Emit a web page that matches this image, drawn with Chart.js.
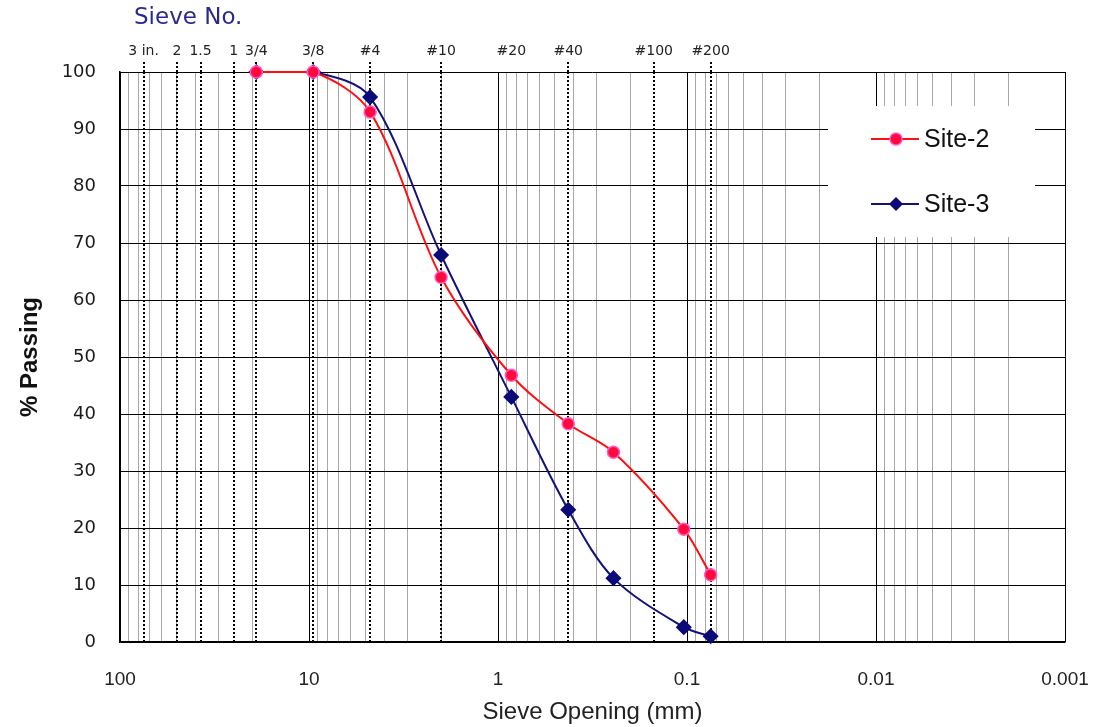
<!DOCTYPE html>
<html><head><meta charset="utf-8">
<script src="https://cdn.jsdelivr.net/npm/chart.js@4/dist/chart.umd.min.js"></script>
<style>html,body{margin:0;padding:0;background:#fff;}#wrap{width:1097px;height:727px;}</style>
</head><body><div id="wrap"><canvas id="c" width="1097" height="727"></canvas></div>
<script>
// ---- data ----
const sieveLabels = ['3 in.', '2', '1.5', '1', '3/4', '3/8', '#4', '#10', '#20', '#40', '#100', '#200'];
const sieveSizes  = [75, 50, 37.5, 25, 19, 9.5, 4.75, 2.0, 0.85, 0.425, 0.15, 0.075];
const sieveDotted = [true, true, true, true, true, true, true, true, false, true, true, true];
const openingTicks = [100, 10, 1, 0.1, 0.01, 0.001];
const yTicks = [0, 10, 20, 30, 40, 50, 60, 70, 80, 90, 100];
const site2Sizes   = [19, 9.5, 4.75, 2.0, 0.85, 0.425, 0.245, 0.104, 0.075];
const site2Passing = [100, 100, 93.0, 64.0, 46.8, 38.3, 33.3, 19.8, 11.8];
const site3Sizes   = [19, 9.5, 4.75, 2.0, 0.85, 0.425, 0.245, 0.104, 0.075];
const site3Passing = [100, 100, 95.6, 67.9, 43.0, 23.2, 11.2, 2.6, 1.0];

// minor log grid (2..9 per decade)
const minorTicks = [];
for (let i = 1; i < openingTicks.length; i++) {
  for (let m = 2; m <= 9; m++) minorTicks.push(m * openingTicks[i]);
}
const majorSet = new Set(openingTicks);

const ds = (label, xs, ys, color, style, bg, bd, r) => ({
  label,
  data: xs.map((x, i) => ({ x, y: ys[i] })),
  borderColor: color, borderWidth: 2,
  pointStyle: style, pointBackgroundColor: bg, pointBorderColor: bd,
  pointBorderWidth: 1.5, pointRadius: r,
  tension: 0.32, fill: false, clip: false, xAxisID: 'x', yAxisID: 'y'
});

const noPad = s => { s.paddingLeft = 0; s.paddingRight = 0; };

const extras = {
  id: 'extras',
  beforeDatasetsDraw(chart) {
    const c = chart.ctx;
    c.save();
    c.fillStyle = '#fff';
    c.fillRect(828, 106, 207, 131);
    const items = [
      { y: 139, text: 'Site-2', color: '#ff1010', kind: 'circle' },
      { y: 204, text: 'Site-3', color: '#12127a', kind: 'diamond' }
    ];
    items.forEach(it => {
      c.strokeStyle = it.color; c.lineWidth = 2;
      c.beginPath(); c.moveTo(871, it.y); c.lineTo(919, it.y); c.stroke();
      if (it.kind === 'circle') {
        c.fillStyle = '#ff0a3c'; c.strokeStyle = '#ff5ac8'; c.lineWidth = 1.5;
        c.beginPath(); c.arc(896, it.y, 6, 0, Math.PI * 2); c.fill(); c.stroke();
      } else {
        c.fillStyle = '#0a0a78';
        c.beginPath(); c.moveTo(896, it.y - 7); c.lineTo(903, it.y); c.lineTo(896, it.y + 7); c.lineTo(889, it.y); c.closePath(); c.fill();
      }
      c.fillStyle = '#111'; c.font = '25px "Liberation Sans", Arial, sans-serif';
      c.textBaseline = 'middle'; c.textAlign = 'left';
      c.fillText(it.text, 924, it.y + 1);
    });
    c.restore();
  },
  afterDraw(chart) {
    const c = chart.ctx;
    c.save();
    c.fillStyle = '#2a2a8e';
    c.font = '23px "DejaVu Sans", Verdana, sans-serif';
    c.textBaseline = 'middle'; c.textAlign = 'left';
    c.fillText('Sieve No.', 134, 18);
    c.restore();
  }
};

new Chart(document.getElementById('c'), {
  type: 'line',
  data: {
    datasets: [
      ds('Site-2', site2Sizes, site2Passing, '#ff1010', 'circle', '#ff0a3c', '#ff5ac8', 6),
      ds('Site-3', site3Sizes, site3Passing, '#12127a', 'rectRot', '#0a0a78', '#0a0a78', 7)
    ]
  },
  options: {
    responsive: false, animation: false, devicePixelRatio: 1,
    layout: { padding: { left: 0, right: 32, top: 0, bottom: 0 } },
    plugins: { legend: { display: false }, tooltip: { enabled: false } },
    scales: {
      x: {
        type: 'logarithmic', position: 'bottom', min: 0.001, max: 100, reverse: true,
        afterBuildTicks: s => { s.ticks = openingTicks.concat(minorTicks).sort((a, b) => b - a).map(v => ({ value: v })); },
        afterFit: s => { s.height = 85; noPad(s); },
        ticks: {
          autoSkip: false, maxRotation: 0, padding: 26, color: '#222',
          font: { family: '"Liberation Sans Narrow", "Liberation Sans", sans-serif', size: 19 },
          callback: v => majorSet.has(v) ? String(v) : ''
        },
        grid: {
          drawTicks: false,
          color: ctx => (ctx.tick && majorSet.has(ctx.tick.value)) ? '#000' : '#a8a8a8',
          lineWidth: 1
        },
        border: { display: true, color: '#000', width: 1.5 },
        title: {
          display: true, text: 'Sieve Opening (mm)', color: '#222', padding: { top: 3, bottom: 0 },
          font: { family: '"Liberation Sans Narrow", "Liberation Sans", sans-serif', size: 24 }
        }
      },
      x2: {
        type: 'logarithmic', position: 'top', min: 0.001, max: 100, reverse: true,
        afterBuildTicks: s => { s.ticks = sieveSizes.map(v => ({ value: v })); },
        afterFit: s => { s.height = 72; noPad(s); },
        ticks: {
          autoSkip: false, maxRotation: 0, padding: 2, color: '#222',
          font: { family: '"DejaVu Sans", Verdana, sans-serif', size: 14 },
          callback: (v, i) => sieveLabels[i]
        },
        grid: {
          drawOnChartArea: true, drawTicks: true, tickLength: 10,
          color: ctx => sieveDotted[ctx.index] ? '#000' : 'rgba(0,0,0,0)',
          tickColor: ctx => sieveDotted[ctx.index] ? '#000' : 'rgba(0,0,0,0)',
          lineWidth: 2, tickWidth: 2, tickBorderDash: [2, 2]
        },
        border: { display: false, dash: [2, 2] }
      },
      y: {
        type: 'linear', min: 0, max: 100,
        afterBuildTicks: s => { s.ticks = yTicks.map(v => ({ value: v })); },
        afterFit: s => { s.width = 120; },
        ticks: {
          padding: 24, color: '#1a1a1a',
          font: { family: '"DejaVu Sans", Verdana, sans-serif', size: 18 }
        },
        grid: { color: '#000', lineWidth: 1, drawTicks: false },
        border: { display: true, color: '#000', width: 1.5 },
        title: {
          display: true, text: '% Passing', color: '#111', padding: { top: 16, bottom: 4 },
          font: { family: '"Liberation Sans Narrow", "Liberation Sans", sans-serif', size: 24, weight: 'bold' }
        }
      }
    }
  },
  plugins: [extras]
});
</script>
</body></html>
